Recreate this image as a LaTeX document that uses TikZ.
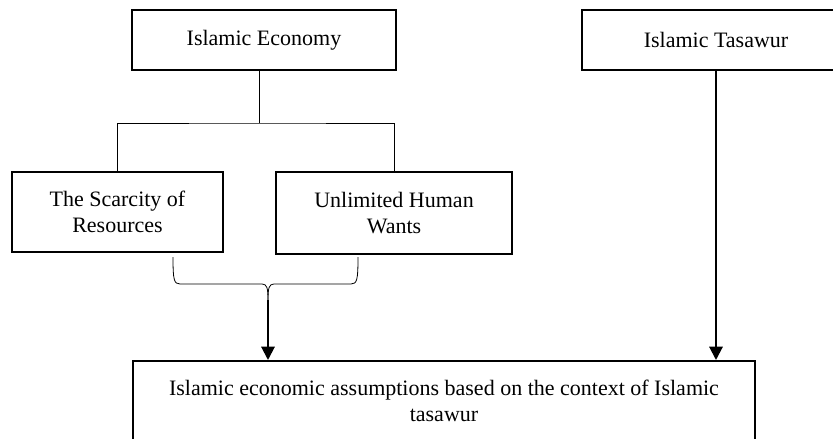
\documentclass[tikz,border=0pt]{standalone}
\usepackage{fontspec}
\setmainfont{Liberation Serif}
\usetikzlibrary{arrows.meta}
\tikzset{
  frame/.style={draw=black, line width=1.5pt, align=center, inner sep=0pt,
    font=\fontsize{16.5}{19.5}\selectfont},
  link/.style={draw=black, line width=0.75pt},
  flow/.style={draw=black, line width=1.5pt, -{Triangle[width=10pt,length=10pt]}}
}
\begin{document}
\begin{tikzpicture}[x=0.75pt,y=0.75pt,yscale=-1,xscale=1]
\clip (0,0) rectangle (833,439); %set diagram left start at 0, and has height of 439

%Shape: Rectangle [id:eco]
\node [frame, minimum width=198pt, minimum height=45pt] (eco) at (264,40) {Islamic Economy};
%Shape: Rectangle [id:tasawur]
\node [frame, minimum width=201pt, minimum height=45pt] (tasawur) at (716,40) {Islamic Tasawur};
%Shape: Rectangle [id:scarcity]
\node [frame, minimum width=158.25pt, minimum height=60pt] (scarcity) at (117.5,212) {The Scarcity of\\Resources};
%Shape: Rectangle [id:wants]
\node [frame, minimum width=177pt, minimum height=61.5pt] (wants) at (394,213) {Unlimited Human\\Wants};
%Shape: Rectangle [id:basis]
\node [frame, minimum width=466.5pt, minimum height=60pt] (basis) at (444,401) {Islamic economic assumptions based on the context of Islamic\\tasawur};

%Straight Lines [id:split]
\coordinate (split) at (259,123);
\draw [link] (split |- eco.south) -- (split);
\draw [link] (scarcity.north) |- (split) -| (wants.north);

%Shape: Brace [id:brace]
\coordinate (braceL) at (173,257);
\coordinate (braceR) at (358,257);
\coordinate (tip) at (268,300);
\draw [link, line width=0.6pt] (braceL) .. controls (173,280) and (174,284) .. (180,284) -- (262,284) .. controls (267,284) and (268,288) .. (tip);
\draw [link, line width=0.6pt] (braceR) .. controls (358,280) and (357,284) .. (351,284) -- (274,284) .. controls (269,284) and (268,288) .. (tip);

%Straight Lines [id:arrows]
\draw [flow] (tip) -- (tip |- basis.north);
\draw [flow] (tasawur.south) -- (tasawur.south |- basis.north);

\end{tikzpicture}
\end{document}
